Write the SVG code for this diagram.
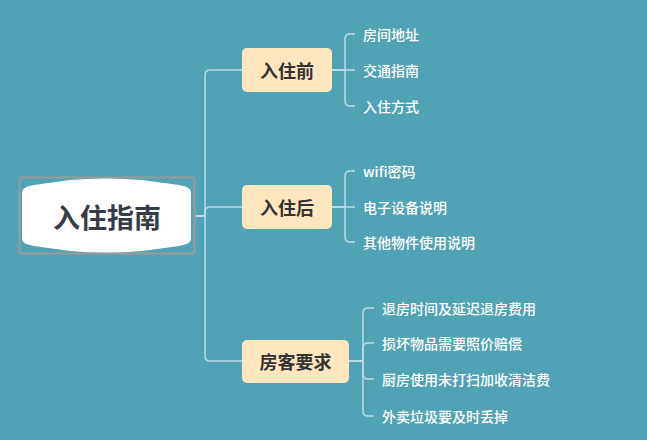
<svg xmlns="http://www.w3.org/2000/svg" width="647" height="440" viewBox="0 0 647 440">
<style>
.bg{fill:#50a3b4}
.ln{fill:none;stroke:#bcdde4;stroke-width:1.5}
.box{fill:#ffe6bf}
.bt{font-family:"Noto Sans CJK SC","Liberation Sans",sans-serif;font-size:18px;font-weight:bold;fill:#333333;text-anchor:middle;dominant-baseline:central}
.lt{font-family:"Noto Sans CJK SC","Liberation Sans",sans-serif;font-size:14px;font-weight:500;fill:#ffffff;dominant-baseline:central}
.rt{font-family:"Noto Sans CJK SC","Liberation Sans",sans-serif;font-size:27px;font-weight:bold;fill:#353c48;text-anchor:middle;dominant-baseline:central}
</style>
<rect class="bg" x="0" y="0" width="647" height="440"/>
<g id="connectors">
<path class="ln" d="M194,216 H205 V75 Q205,70 210,70 H242"/>
<path class="ln" d="M194,216 H205 V212 Q205,207 210,207 H242"/>
<path class="ln" d="M194,216 H205 V356 Q205,361 210,361 H242"/>
<path class="ln" d="M332,70 H345 V39 Q345,34 350,34 H355"/>
<path class="ln" d="M332,70 H355"/>
<path class="ln" d="M332,70 H345 V101 Q345,106 350,106 H355"/>
<path class="ln" d="M332,207 H345 V176 Q345,171 350,171 H355"/>
<path class="ln" d="M332,207 H355"/>
<path class="ln" d="M332,207 H345 V237 Q345,242 350,242 H355"/>
<path class="ln" d="M349,361 H363 V313 Q363,308 368,308 H374"/>
<path class="ln" d="M349,361 H363 V348 Q363,343 368,343 H374"/>
<path class="ln" d="M349,361 H363 V374 Q363,379 368,379 H374"/>
<path class="ln" d="M349,361 H363 V411 Q363,416 368,416 H374"/>
</g>
<g id="root">
<rect x="19.5" y="177.5" width="175" height="76" fill="none" stroke="#9a9a9a" stroke-width="2" rx="2"/>
<path d="M22,192 Q22,187 34,185 L70,180 Q106,177 142,180 L179,185 Q191,187 191,192 L191,239 Q191,244 179,246 L142,251 Q106,254 70,251 L34,246 Q22,244 22,239 Z" fill="#ffffff"/>
<text class="rt" x="107" y="216">入住指南</text>
</g>
<g id="n1">
<rect class="box" x="242" y="48" width="90" height="44" rx="5"/>
<text class="bt" x="287" y="70">入住前</text>
</g>
<g id="n2">
<rect class="box" x="242" y="185" width="90" height="44" rx="5"/>
<text class="bt" x="287" y="207">入住后</text>
</g>
<g id="n3">
<rect class="box" x="242" y="340" width="107" height="43" rx="5"/>
<text class="bt" x="295.5" y="361">房客要求</text>
</g>
<g id="l1"><text class="lt" x="363" y="34">房间地址</text></g>
<g id="l2"><text class="lt" x="363" y="70">交通指南</text></g>
<g id="l3"><text class="lt" x="363" y="106">入住方式</text></g>
<g id="l4"><text class="lt" x="363" y="171">wifi密码</text></g>
<g id="l5"><text class="lt" x="363" y="207">电子设备说明</text></g>
<g id="l6"><text class="lt" x="363" y="242">其他物件使用说明</text></g>
<g id="l7"><text class="lt" x="382" y="308">退房时间及延迟退房费用</text></g>
<g id="l8"><text class="lt" x="382" y="343">损坏物品需要照价赔偿</text></g>
<g id="l9"><text class="lt" x="382" y="379">厨房使用未打扫加收清洁费</text></g>
<g id="l10"><text class="lt" x="382" y="416">外卖垃圾要及时丢掉</text></g>
</svg>
